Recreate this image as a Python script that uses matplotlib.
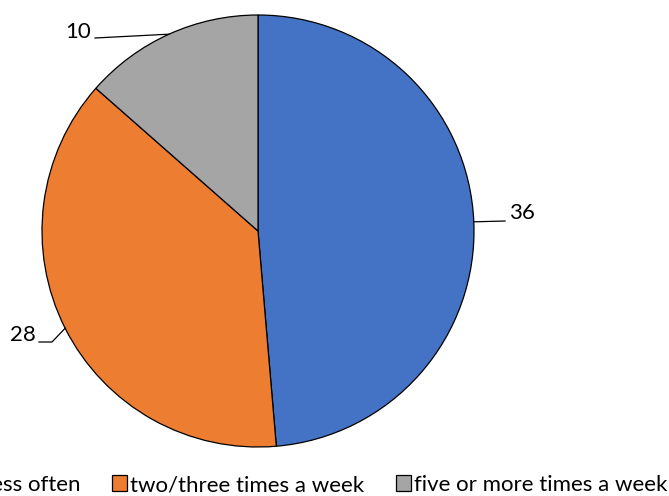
import matplotlib
matplotlib.use("Agg")
import matplotlib.pyplot as plt
from matplotlib.patches import Patch
import numpy as np

categories = ["less often", "two/three times a week", "five or more times a week"]
values = [36, 28, 10]
colors = ["#4472C4", "#ED7D31", "#A5A5A5"]

plt.rcParams["font.family"] = ["Lato", "DejaVu Sans"]

W, H = 669, 496
fig = plt.figure(figsize=(W / 100, H / 100), dpi=100)

cx, cy, r = 258, 231, 216
ax = fig.add_axes([(cx - r) / W, (H - cy - r) / H, 2 * r / W, 2 * r / H])
wedges, _ = ax.pie(values, colors=colors, startangle=90, counterclock=False,
                   radius=1.0,
                   wedgeprops=dict(edgecolor="black", linewidth=0.9))
ax.set_xlim(-1, 1)
ax.set_ylim(-1, 1)
ax.set_aspect("equal")
ax.axis("off")

def px(x, y):
    # pixel position (from top-left) to data coords of the pie axes
    return ((x - cx) / r, (cy - y) / r)

# leader lines and value labels
fs = 16
for w, v in zip(wedges, values):
    mid = np.deg2rad((w.theta1 + w.theta2) / 2)
    ex, ey = np.cos(mid), np.sin(mid)
    if v == 36:
        p1 = px(505, 221)
        ax.plot([ex, p1[0]], [ey, p1[1]], color="black", lw=0.9, clip_on=False)
        t = px(509, 213)
        ax.text(t[0], t[1], str(v), ha="left", va="center", fontsize=fs, clip_on=False)
    elif v == 28:
        p1 = px(52, 342)
        p2 = px(39, 342)
        ax.plot([ex, p1[0], p2[0]], [ey, p1[1], p2[1]], color="black", lw=0.9, clip_on=False)
        t = px(36, 335)
        ax.text(t[0], t[1], str(v), ha="right", va="center", fontsize=fs, clip_on=False)
    else:
        p1 = px(95, 38)
        ax.plot([ex, p1[0]], [ey, p1[1]], color="black", lw=0.9, clip_on=False)
        t = px(91, 32)
        ax.text(t[0], t[1], str(v), ha="right", va="center", fontsize=fs, clip_on=False)

handles = [Patch(facecolor=c, edgecolor="black", linewidth=0.9) for c in colors]
fig.legend(handles, categories, loc="center", ncol=3, frameon=False,
           bbox_to_anchor=(317.5 / W, (H - 485) / H), fontsize=fs,
           handlelength=0.7, handleheight=0.7, handletextpad=0.12,
           columnspacing=1.42)

fig.savefig("out.png", dpi=100)
